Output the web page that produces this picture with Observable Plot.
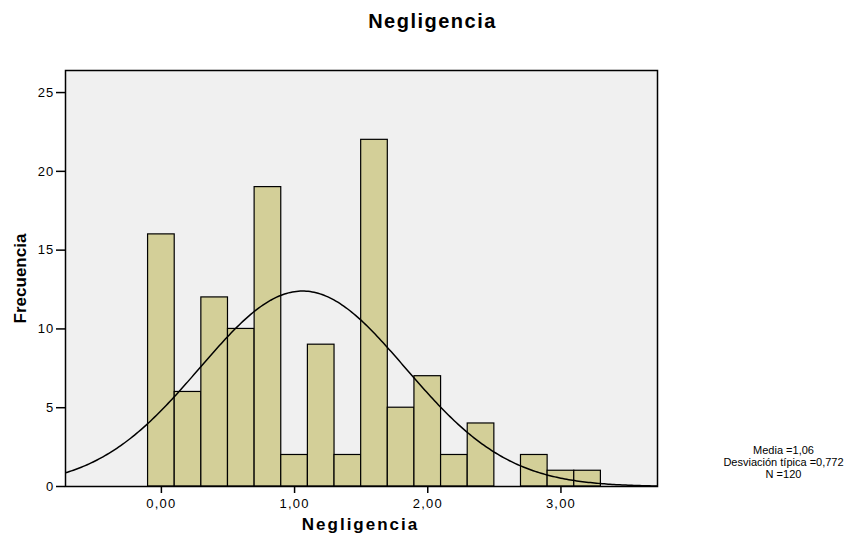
<!DOCTYPE html>
<html><head><meta charset="utf-8">
<script src="https://cdn.jsdelivr.net/npm/d3@7"></script>
<script src="https://cdn.jsdelivr.net/npm/@observablehq/plot@0.6"></script>
<style>body{margin:0;background:#fff;font-family:"Liberation Sans",Arial,sans-serif}</style>
</head><body><div id="chart"></div>
<script>
const binCenters = [0, 0.2, 0.4, 0.6, 0.8, 1.0, 1.2, 1.4, 1.6, 1.8, 2.0, 2.2, 2.4, 2.6, 2.8, 3.0, 3.2];
const counts     = [16, 6, 12, 10, 19, 2, 9, 2, 22, 5, 7, 2, 4, 0, 2, 1, 1];
const xTicks = [0, 1, 2, 3];
const yTicks = [0, 5, 10, 15, 20, 25];
const titleText = "Negligencia";
const xLabel = "Negligencia";
const yLabel = "Frecuencia";
const statLines = ["Media =1,06", "Desviación típica =0,772", "N =120"];
const mean = 1.06, sd = 0.772, nTotal = 120, binWidth = 0.2;
const xDomain = [-0.72, 3.725];
const yDomain = [0, 26.4];

const bins = binCenters.map((c, i) => ({x1: c - binWidth / 2, x2: c + binWidth / 2, count: counts[i]})).filter(d => d.count > 0);

// fitted normal curve from the stated mean / sd / N
const curve = d3.range(0, 301).map(i => {
  const x = xDomain[0] + (xDomain[1] - xDomain[0]) * i / 300;
  const z = (x - mean) / sd;
  return {x, y: nTotal * binWidth / (sd * Math.sqrt(2 * Math.PI)) * Math.exp(-0.5 * z * z)};
});

const fmt = d => d3.format(".2f")(d).replace(".", ",");

const chart = Plot.plot({
  width: 853, height: 536,
  marginLeft: 65, marginRight: 196, marginTop: 70, marginBottom: 50,
  style: {fontFamily: "'Liberation Sans', Arial, sans-serif", fontSize: "13px", color: "#000", background: "#fff"},
  x: {domain: xDomain},
  y: {domain: yDomain},
  marks: [
    Plot.frame({fill: "#f0f0f0", stroke: "none"}),
    Plot.rect(bins, {x1: "x1", x2: "x2", y1: 0, y2: "count", fill: "#d3cf98", stroke: "#000", strokeWidth: 1.2}),
    Plot.line(curve, {x: "x", y: "y", stroke: "#000", strokeWidth: 1.5, clip: true}),
    Plot.frame({stroke: "#000", strokeWidth: 1.5}),
    Plot.axisX({ticks: xTicks, tickFormat: fmt, tickSize: 7, tickPadding: 5, label: null, strokeWidth: 1.5}),
    Plot.axisY({ticks: yTicks, tickSize: 9, tickPadding: 2, label: null, strokeWidth: 1.5}),
    Plot.text([titleText], {frameAnchor: "top", dx: 71, dy: -49, textAnchor: "middle", lineAnchor: "middle", fontSize: 20, fontWeight: "bold", fill: "#000"}),
    Plot.text([xLabel], {frameAnchor: "bottom", dx: -1, dy: 38, textAnchor: "middle", lineAnchor: "middle", fontSize: 17, fontWeight: "bold", fill: "#000"}),
    Plot.text([yLabel], {frameAnchor: "left", dx: -45, dy: 0, rotate: -90, textAnchor: "middle", lineAnchor: "middle", fontSize: 17, fontWeight: "bold", fill: "#000"}),
    Plot.text([statLines.join("\n")], {frameAnchor: "bottom-right", dx: 126, dy: -24, textAnchor: "middle", lineAnchor: "middle", lineHeight: 1.1, fontSize: 11, fill: "#000"})
  ]
});
const root = d3.select(chart);
root.selectAll('g[aria-label="x-axis tick label"], g[aria-label="y-axis tick label"]').style("letter-spacing", "1.2px");
const texts = root.selectAll('g[aria-label="text"]').nodes();
d3.select(texts[0]).style("letter-spacing", "1.5px");
d3.select(texts[1]).style("letter-spacing", "2px");
document.getElementById("chart").appendChild(chart);
</script>
</body></html>
